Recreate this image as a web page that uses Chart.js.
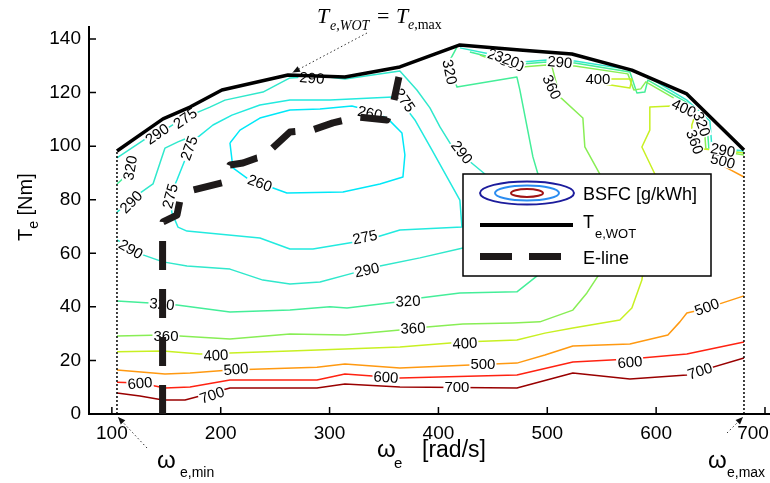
<!DOCTYPE html>
<html>
<head>
<meta charset="utf-8">
<script src="https://cdn.jsdelivr.net/npm/chart.js@4.4.1/dist/chart.umd.min.js"></script>
<style>
  html, body { margin: 0; padding: 0; background: #fff; }
</style>
</head>
<body>
<canvas id="bsfc" width="770" height="483"></canvas>
<script>
// speed in rad/s, torque in Nm
const xTicks = [100, 200, 300, 400, 500, 600, 700];
const yTicks = [0, 20, 40, 60, 80, 100, 120, 140];

const wotSpeed  = [104.7, 147.0, 171.8, 201.1, 261.8, 314.1, 364.6, 419.7, 474.8, 522.6, 577.7, 628.2, 680.7];
const wotTorque = [98.2, 110.2, 114.6, 121.0, 126.6, 125.8, 129.6, 137.8, 135.9, 134.4, 128.4, 119.5, 98.6];

const eSpeed  = [146.6, 146.6, 147.0, 159.8, 162.6, 174.5, 201.1, 208.5, 220.4, 233.3, 238.8, 263.6, 283.8, 303.1, 326.0, 352.7, 358.2, 363.7];
const eTorque = [0, 68.0, 71.7, 74.3, 79.9, 83.6, 86.3, 93.0, 93.7, 95.6, 96.0, 105.3, 106.0, 108.7, 110.9, 109.8, 115.4, 125.8];

const speedLimits = [104.7, 680.7];
const torqueAtLimits = [98.2, 98.6];

const c700Speed  = [104.7, 125.8, 147.0, 167.2, 208.5, 288.4, 314.1, 364.6, 472.1, 523.5, 575.9, 628.2, 680.7];
const c700Torque = [7.8, 6.7, 5.2, 5.2, 9.7, 9.7, 11.2, 10.1, 9.7, 15.3, 13.1, 14.6, 20.9];

const c600Speed  = [104.7, 125.8, 148.8, 171.8, 208.5, 288.4, 314.1, 364.6, 472.1, 523.5, 575.9, 628.2, 680.7];
const c600Torque = [11.9, 11.6, 9.7, 10.1, 12.7, 12.7, 14.9, 13.4, 14.6, 19.4, 20.5, 22.4, 26.9];

const c500Speed  = [104.7, 148.8, 171.8, 208.5, 288.4, 314.1, 364.6, 472.1, 497.8, 523.5, 575.9, 610.8, 621.8, 628.2, 640.2, 660.4, 680.7];
const c500Torque = [16.4, 14.9, 15.3, 16.4, 17.5, 18.7, 17.2, 19.0, 22.0, 25.4, 26.1, 29.5, 34.4, 37.7, 38.8, 41.4, 44.1];
const c500bSpeed  = [652.1, 664.9, 680.7];
const c500bTorque = [94.5, 91.9, 88.5];

const c400Speed  = [104.7, 147.0, 180.9, 208.5, 263.6, 314.1, 364.6, 422.5, 472.1, 497.8, 523.5, 566.7, 577.7, 586.9, 594.2, 598.8, 586.9, 594.2, 594.2, 614.4, 637.4, 632.8, 632.8, 680.7];
const c400Torque = [23.2, 23.5, 22.4, 22.8, 23.5, 24.3, 25.0, 26.9, 27.6, 30.2, 32.1, 35.1, 39.6, 50.0, 72.4, 89.6, 99.7, 106.0, 114.6, 115.0, 113.5, 107.9, 99.3, 97.5];
const c400bSpeed  = [539.1, 577.7, 575.9, 534.5];
const c400bTorque = [125.1, 125.1, 121.7, 124.3];

const c360Speed  = [104.7, 147.0, 208.5, 263.6, 314.1, 364.6, 389.4, 422.5, 468.4, 493.2, 523.5, 536.4, 548.3, 552.9, 548.3, 534.5, 532.7, 511.6, 504.2];
const c360Torque = [29.1, 29.5, 28.0, 29.9, 29.5, 31.4, 32.5, 33.6, 34.0, 34.4, 38.8, 45.2, 52.6, 72.4, 89.6, 99.7, 110.5, 118.4, 129.9];
const c360bSpeed  = [438.1, 447.3, 476.7, 499.6, 525.3, 574.0, 579.5, 585.9, 590.5, 625.6, 643.9, 645.7, 680.7];
const c360bTorque = [134.0, 132.6, 129.6, 130.3, 129.9, 127.0, 121.0, 121.4, 124.0, 115.8, 108.7, 99.0, 96.7];

const c320Speed  = [104.7, 135.0, 159.8, 208.5, 263.6, 300.3, 316.0, 361.9, 383.0, 419.7, 472.1, 490.4, 495.0, 491.4, 486.8, 474.8, 472.1, 417.0, 409.6, 417.0];
const c320Torque = [42.2, 41.4, 40.7, 38.1, 38.8, 40.0, 39.6, 41.8, 43.3, 45.2, 45.6, 51.5, 68.7, 89.6, 96.0, 121.0, 125.8, 122.1, 131.4, 137.0];
const c320bSpeed  = [104.7, 113.0, 117.6];
const c320bTorque = [85.9, 88.9, 93.0];
const c320cSpeed  = [428.9, 447.3, 476.7, 499.6, 525.3, 575.9, 582.3, 589.6, 592.4, 627.3, 646.6, 648.4, 680.7];
const c320cTorque = [135.2, 133.3, 130.7, 131.4, 131.1, 127.7, 119.9, 120.2, 124.7, 116.5, 109.0, 99.3, 97.5];

const c290Speed  = [104.7, 132.3, 151.6, 164.4, 190.1, 203.9, 238.8, 263.6, 291.2, 314.1, 364.6, 380.2, 392.2, 401.4, 410.5, 421.6, 442.7, 433.5, 422.5, 383.0, 346.3, 321.5, 291.2, 263.6, 238.8, 208.5, 169.0, 147.0, 128.6, 104.7];
const c290Torque = [95.6, 103.1, 106.8, 110.2, 114.6, 117.2, 120.2, 125.5, 126.2, 125.1, 128.1, 121.0, 114.3, 107.2, 101.2, 96.7, 89.6, 72.4, 62.0, 58.3, 55.3, 52.6, 49.3, 48.5, 50.0, 54.1, 55.3, 56.8, 59.4, 65.0];
const c290bSpeed  = [104.7, 125.8, 137.8, 144.2, 148.8, 160.7, 167.2];
const c290bTorque = [75.4, 82.5, 85.9, 93.7, 99.3, 101.6, 102.7];
const c290cSpeed  = [419.7, 447.3, 476.7, 499.6, 525.3, 578.6, 594.2, 628.2, 649.4, 651.2, 680.7];
const c290cTorque = [136.7, 134.4, 131.4, 132.2, 131.8, 128.4, 125.5, 117.2, 109.4, 99.7, 98.2];

const c275Speed  = [358.2, 300.3, 263.6, 236.0, 210.3, 192.9, 179.1, 170.8, 159.8, 153.4, 155.2, 160.7, 169.0, 236.0, 263.6, 284.7, 334.3, 364.6, 421.6, 419.7, 394.0, 378.4, 364.6, 358.2];
const c275Torque = [118.4, 117.2, 117.2, 115.4, 111.6, 107.9, 103.4, 98.6, 87.4, 81.4, 75.1, 69.8, 68.3, 65.7, 61.6, 61.6, 65.0, 68.7, 69.8, 79.9, 98.6, 109.8, 117.2, 118.4];

const c260Speed  = [208.5, 217.7, 236.0, 263.6, 291.2, 320.5, 341.7, 353.6, 366.5, 369.2, 367.4, 346.3, 312.3, 260.8, 240.6, 224.1, 211.2, 208.5];
const c260Torque = [101.2, 106.0, 110.5, 113.5, 113.9, 115.0, 112.8, 110.2, 104.9, 96.7, 88.5, 85.9, 82.9, 82.5, 85.5, 88.1, 91.9, 101.2];

// inline contour labels
const labelText   = ['700', '700', '700', '600', '600', '600', '500', '500', '500', '500', '400', '400', '400', '400',
                     '360', '360', '360', '360', '320', '320', '320', '320', '320', '290', '290', '290', '290', '290',
                     '290', '290', '290', '290', '275', '275', '275', '275', '275', '260', '260', '360', '320'];
const labelSpeed  = [192.0, 417.0, 640.2, 125.8, 351.8, 575.9, 214.0, 440.9, 646.6, 661.3, 195.6, 424.3, 546.5, 625.5,
                     149.7, 376.6, 504.2, 635.6, 146.0, 372.0, 410.5, 116.7, 642.1, 117.6, 117.6, 334.3, 141.5, 283.8,
                     421.6, 511.6, 661.3, 456.5, 170.8, 153.4, 332.5, 369.2, 167.2, 236.0, 337.1, 467.4, 463.0];
const labelTorque = [7.1, 10.1, 16.1, 11.6, 13.8, 19.4, 16.8, 18.7, 40.0, 94.5, 22.0, 26.5, 125.1, 114.3,
                     29.1, 32.1, 122.1, 101.6, 41.1, 42.2, 127.7, 91.9, 108.3, 79.2, 61.6, 53.8, 104.6, 125.5,
                     97.8, 131.4, 98.6, 133.3, 99.3, 81.4, 66.1, 117.2, 110.5, 86.3, 112.4, 131.1, 132.5];
const labelAngle  = [-20, 0, -18, -5, 3, -5, -5, 0, -20, 15, -3, -3, 0, 25,
                     0, -3, 65, 70, 5, -3, 78, -80, 70, -45, 30, -12, -35, 5,
                     52, 5, 10, 20, -70, -75, -12, 55, -35, 20, 12, 20, 20];

const sans = '"Liberation Sans", Arial, sans-serif';
const serif = '"Liberation Serif", "Times New Roman", serif';

function curve(label, speed, torque, color, width, order, dash) {
  return {
    label: label,
    data: speed.map((w, i) => ({ x: w, y: torque[i] })),
    showLine: true,
    borderColor: color,
    borderWidth: width,
    borderDash: dash || [],
    borderCapStyle: 'butt',
    borderJoinStyle: 'round',
    pointRadius: 0,
    tension: 0,
    fill: false,
    order: order
  };
}

const datasets = [
  curve('E-line', eSpeed, eTorque, '#1e1a1a', 7, 0, [29, 19]),
  curve('WOT', wotSpeed, wotTorque, '#000', 3.5, 1),
  curve('min', [speedLimits[0], speedLimits[0]], [0, torqueAtLimits[0]], '#000', 1.5, 2, [2, 2]),
  curve('max', [speedLimits[1], speedLimits[1]], [0, torqueAtLimits[1]], '#000', 1.5, 2, [2, 2]),
  curve('700', c700Speed, c700Torque, '#990000', 1.5, 5),
  curve('600', c600Speed, c600Torque, '#ff2211', 1.5, 5),
  curve('500', c500Speed, c500Torque, '#ff9911', 1.5, 5),
  curve('500b', c500bSpeed, c500bTorque, '#ff9911', 1.5, 5),
  curve('400', c400Speed, c400Torque, '#c8f022', 1.5, 5),
  curve('400b', c400bSpeed, c400bTorque, '#c8f022', 1.5, 5),
  curve('360', c360Speed, c360Torque, '#88ee55', 1.5, 5),
  curve('360b', c360bSpeed, c360bTorque, '#88ee55', 1.5, 5),
  curve('320', c320Speed, c320Torque, '#44ee99', 1.5, 5),
  curve('320b', c320bSpeed, c320bTorque, '#44ee99', 1.5, 5),
  curve('320c', c320cSpeed, c320cTorque, '#44ee99', 1.5, 5),
  curve('290', c290Speed, c290Torque, '#30e8cc', 1.5, 5),
  curve('290b', c290bSpeed, c290bTorque, '#30e8cc', 1.5, 5),
  curve('290c', c290cSpeed, c290cTorque, '#30e8cc', 1.5, 5),
  curve('275', c275Speed, c275Torque, '#22eadf', 1.5, 5),
  curve('260', c260Speed, c260Torque, '#00e8f8', 1.5, 5)
];

function dottedArrow(ctx, x0, y0, x1, y1) {
  ctx.save();
  ctx.strokeStyle = '#333';
  ctx.lineWidth = 1;
  ctx.setLineDash([1.5, 2.5]);
  ctx.beginPath();
  ctx.moveTo(x0, y0);
  ctx.lineTo(x1, y1);
  ctx.stroke();
  const a = Math.atan2(y1 - y0, x1 - x0);
  ctx.setLineDash([]);
  ctx.fillStyle = '#111';
  ctx.beginPath();
  ctx.moveTo(x1, y1);
  ctx.lineTo(x1 - 8 * Math.cos(a - 0.4), y1 - 8 * Math.sin(a - 0.4));
  ctx.lineTo(x1 - 8 * Math.cos(a + 0.4), y1 - 8 * Math.sin(a + 0.4));
  ctx.closePath();
  ctx.fill();
  ctx.restore();
}

const mapPlugin = {
  id: 'mapPlugin',
  beforeDraw(chart) {
    // keep the last speed label inside the canvas
    const items = chart.scales.x.getLabelItems();
    const last = items[items.length - 1];
    if (last && !last.moved) {
      last.options.translation[0] -= 12;
      last.moved = true;
    }
  },
  beforeDatasetDraw(chart, args) {
    if (chart.data.datasets[args.index].label !== 'WOT') return;
    const { ctx, scales: { x, y } } = chart;
    ctx.save();
    ctx.font = '15px ' + sans;
    ctx.textAlign = 'center';
    ctx.textBaseline = 'middle';
    labelText.forEach((t, i) => {
      const px = x.getPixelForValue(labelSpeed[i]);
      const py = y.getPixelForValue(labelTorque[i]);
      const w = ctx.measureText(t).width;
      ctx.save();
      ctx.translate(px, py);
      ctx.rotate(labelAngle[i] * Math.PI / 180);
      ctx.fillStyle = '#fff';
      ctx.fillRect(-w / 2 - 1, -6, w + 2, 12);
      ctx.fillStyle = '#000';
      ctx.fillText(t, 0, 1);
      ctx.restore();
    });
    ctx.restore();
  },
  afterDatasetsDraw(chart) {
    const ctx = chart.ctx;
    // legend box
    ctx.save();
    ctx.fillStyle = '#fff';
    ctx.fillRect(463, 174, 248, 102);
    ctx.strokeStyle = '#000';
    ctx.lineWidth = 1.5;
    ctx.strokeRect(463, 174, 248, 102);
    const rings = [[47, 11.5, '#1c1c9c'], [32, 7.5, '#2a8cf0'], [16, 4, '#a01414']];
    rings.forEach(r => {
      ctx.strokeStyle = r[2];
      ctx.lineWidth = 2;
      ctx.beginPath();
      ctx.ellipse(527, 193, r[0], r[1], 0, 0, Math.PI * 2);
      ctx.stroke();
    });
    ctx.strokeStyle = '#000';
    ctx.lineWidth = 4;
    ctx.beginPath();
    ctx.moveTo(480, 225);
    ctx.lineTo(573, 225);
    ctx.stroke();
    ctx.fillStyle = '#1e1a1a';
    ctx.fillRect(480, 253, 32, 7);
    ctx.fillRect(529, 253, 32, 7);
    ctx.fillStyle = '#000';
    ctx.textBaseline = 'alphabetic';
    ctx.font = '18px ' + sans;
    ctx.fillText('BSFC [g/kWh]', 583, 200);
    ctx.fillText('T', 583, 228);
    ctx.fillText('E-line', 583, 264);
    ctx.font = '13px ' + sans;
    ctx.fillText('e,WOT', 595, 238);
    ctx.restore();
  },
  afterDraw(chart) {
    const { ctx, chartArea, scales: { x, y } } = chart;
    ctx.save();
    // inward tick marks
    ctx.strokeStyle = '#000';
    ctx.lineWidth = 1.5;
    ctx.beginPath();
    x.ticks.forEach(t => {
      const px = x.getPixelForValue(t.value);
      ctx.moveTo(px, chartArea.bottom);
      ctx.lineTo(px, chartArea.bottom - 7);
    });
    y.ticks.forEach(t => {
      const py = y.getPixelForValue(t.value);
      ctx.moveTo(chartArea.left, py);
      ctx.lineTo(chartArea.left + 7, py);
    });
    ctx.stroke();

    ctx.fillStyle = '#000';
    ctx.textBaseline = 'alphabetic';
    // y title
    ctx.save();
    ctx.translate(32, 241);
    ctx.rotate(-Math.PI / 2);
    ctx.font = '20px ' + sans;
    ctx.fillText('T', 0, 0);
    let off = ctx.measureText('T').width;
    ctx.font = '14px ' + sans;
    ctx.fillText('e', off, 6);
    off += ctx.measureText('e').width;
    ctx.font = '20px ' + sans;
    ctx.fillText(' [Nm]', off, 0);
    ctx.restore();

    // x title
    ctx.font = '24px ' + sans;
    ctx.fillText('\u03c9', 377, 457);
    ctx.font = '15px ' + sans;
    ctx.fillText('e', 394, 468);
    ctx.font = '23px ' + sans;
    ctx.fillText('[rad/s]', 422, 457);

    // speed limits
    ctx.font = '24px ' + sans;
    ctx.fillText('\u03c9', 157, 468);
    ctx.fillText('\u03c9', 708, 468);
    ctx.font = '14px ' + sans;
    ctx.fillText('e,min', 180, 477);
    ctx.fillText('e,max', 727, 477);
    const axisY = y.getPixelForValue(0);
    dottedArrow(ctx, 147, 448, x.getPixelForValue(speedLimits[0]) + 1, axisY + 3);
    dottedArrow(ctx, 727, 433, x.getPixelForValue(speedLimits[1]) - 1, axisY + 3);

    // full-load annotation
    ctx.font = 'italic 22px ' + serif;
    ctx.fillText('T', 317, 23);
    ctx.fillText('T', 396, 23);
    ctx.font = '22px ' + serif;
    ctx.fillText('=', 377, 23);
    ctx.font = 'italic 14px ' + serif;
    ctx.fillText('e,WOT', 330, 30);
    ctx.fillText('e', 408, 29);
    const ew = ctx.measureText('e').width;
    ctx.font = '14px ' + serif;
    ctx.fillText(',max', 408 + ew, 29);
    dottedArrow(ctx, 367, 33, x.getPixelForValue(266), y.getPixelForValue(127.5));
    ctx.restore();
  }
};

new Chart(document.getElementById('bsfc'), {
  type: 'scatter',
  data: { datasets: datasets },
  options: {
    responsive: false,
    animation: false,
    devicePixelRatio: 1,
    layout: { padding: { top: 27, right: 0, bottom: 0, left: 0 } },
    plugins: { legend: { display: false }, tooltip: { enabled: false } },
    scales: {
      x: {
        type: 'linear',
        bounds: 'data',
        min: 79,
        max: 704.6,
        afterBuildTicks: s => { s.ticks = xTicks.map(v => ({ value: v })); },
        afterFit: s => { s.height = 69; s.paddingLeft = 0; s.paddingRight = 0; },
        ticks: { color: '#000', font: { family: sans, size: 19 }, padding: 8, maxRotation: 0, autoSkip: false },
        grid: { display: false, drawTicks: false },
        border: { display: true, color: '#000', width: 2 }
      },
      y: {
        type: 'linear',
        bounds: 'data',
        min: 0,
        max: 144.5,
        afterBuildTicks: s => { s.ticks = yTicks.map(v => ({ value: v })); },
        afterFit: s => { s.width = 89; s.paddingTop = 0; s.paddingBottom = 0; },
        ticks: { color: '#000', font: { family: sans, size: 19 }, padding: 8, autoSkip: false },
        grid: { display: false, drawTicks: false },
        border: { display: true, color: '#000', width: 2 }
      }
    }
  },
  plugins: [mapPlugin]
});
</script>
</body>
</html>
